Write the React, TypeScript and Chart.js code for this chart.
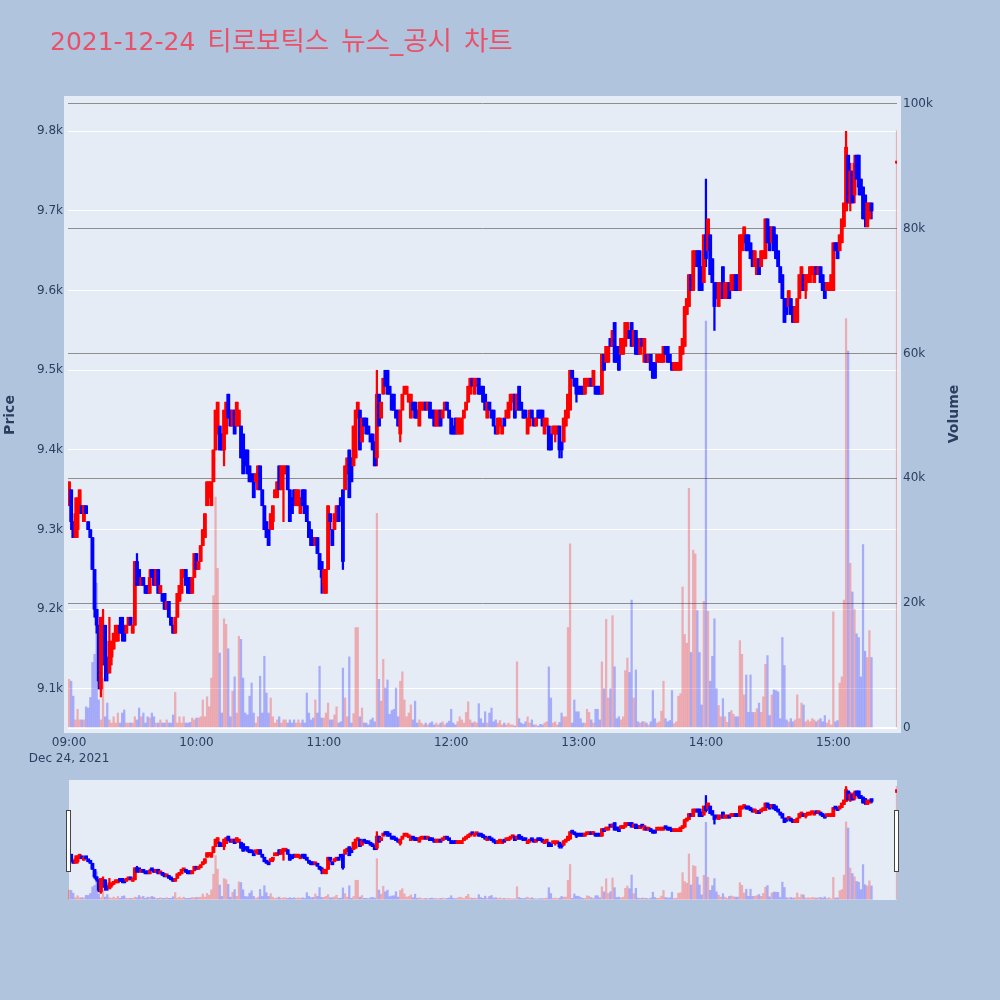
import React, { useEffect, useRef } from 'react';
import { Chart, registerables } from 'chart.js';

Chart.register(...registerables);

const TITLE = '2021-12-24 티로보틱스 뉴스_공시 차트';
const SESSION_START = '09:00';
const SESSION_END = '15:30';
const DATE_LABEL = 'Dec 24, 2021';
const X_TICKS = ['09:00', '10:00', '11:00', '12:00', '13:00', '14:00', '15:00'];
const PRICE_TICKS = [9100, 9200, 9300, 9400, 9500, 9600, 9700, 9800];
const VOLUME_TICKS = [0, 20000, 40000, 60000, 80000, 100000];
const PRICE_RANGE = [9046, 9843];
const VOLUME_RANGE = [-640, 101100];

// one entry per minute from 09:00
const OPEN = [
  9330,9350,9310,9290,9300,9320,9330,9310,9330,9310,
  9300,9290,9250,9200,9180,9100,9140,9180,9140,9120,
  9140,9150,9160,9160,9180,9190,9180,9170,9180,9190,
  9170,9180,9260,9250,9230,9240,9230,9230,9220,9250,
  9250,9230,9250,9220,9220,9220,9200,9210,9190,9180,
  9170,9190,9210,9220,9240,9250,9240,9240,9220,9240,
  9270,9250,9260,9280,9290,9330,9340,9330,9360,9400,
  9420,9430,9420,9400,9420,9470,9450,9430,9450,9430,
  9430,9430,9420,9400,9400,9380,9370,9370,9360,9350,
  9380,9350,9330,9310,9300,9300,9310,9340,9340,9380,
  9350,9370,9370,9380,9350,9340,9350,9330,9330,9320,
  9350,9350,9330,9310,9300,9290,9280,9290,9270,9260,
  9230,9220,9250,9320,9300,9300,9310,9330,9340,9350,
  9350,9370,9400,9390,9380,9390,9440,9450,9410,9440,
  9440,9430,9420,9420,9410,9390,9470,9440,9470,9500,
  9500,9480,9470,9470,9450,9450,9420,9450,9470,9470,
  9460,9440,9460,9460,9450,9430,9450,9450,9460,9450,
  9460,9450,9450,9430,9430,9450,9440,9450,9460,9450,
  9440,9430,9440,9420,9420,9420,9440,9450,9460,9470,
  9490,9470,9480,9490,9480,9480,9470,9440,9460,9450,
  9450,9430,9420,9430,9420,9440,9440,9440,9450,9460,
  9470,9450,9480,9460,9450,9450,9420,9430,9450,9440,
  9430,9450,9450,9450,9420,9430,9430,9420,9420,9420,
  9420,9430,9410,9410,9430,9440,9450,9500,9490,9490,
  9480,9480,9480,9470,9480,9480,9490,9480,9480,9480,
  9480,9470,9520,9510,9510,9540,9530,9560,9530,9530,
  9520,9520,9530,9540,9550,9560,9530,9550,9540,9520,
  9540,9510,9520,9510,9520,9510,9510,9510,9510,9510,
  9510,9530,9530,9520,9510,9500,9500,9500,9500,9520,
  9530,9570,9580,9620,9600,9630,9650,9650,9630,9610,
  9670,9650,9670,9640,9610,9610,9580,9590,9630,9590,
  9590,9610,9600,9600,9620,9620,9600,9650,9660,9670,
  9670,9660,9650,9630,9620,9640,9630,9640,9640,9690,
  9680,9660,9680,9670,9650,9630,9620,9590,9590,9580,
  9590,9580,9560,9560,9590,9600,9620,9600,9610,9610,
  9620,9610,9630,9620,9630,9620,9610,9600,9600,9600,
  9600,9660,9660,9650,9660,9680,9700,9770,9710,9750,
  9720,9770,9770,9740,9730,9720,9680,9690,9710,
];
const HIGH = [
  9360,9350,9310,9340,9340,9350,9330,9330,9330,9310,
  9300,9290,9250,9200,9180,9190,9200,9180,9140,9190,
  9160,9170,9180,9180,9190,9190,9180,9180,9190,9190,
  9180,9260,9270,9250,9240,9240,9230,9230,9250,9250,
  9250,9250,9250,9230,9220,9220,9210,9210,9190,9180,
  9190,9220,9230,9250,9250,9250,9240,9240,9240,9270,
  9270,9260,9280,9300,9320,9360,9360,9360,9400,9450,
  9460,9430,9420,9450,9460,9470,9450,9450,9450,9460,
  9450,9430,9420,9400,9400,9380,9370,9370,9370,9380,
  9380,9350,9330,9310,9300,9320,9330,9350,9360,9380,
  9380,9380,9380,9380,9350,9340,9350,9350,9350,9340,
  9350,9350,9330,9310,9300,9290,9290,9290,9270,9260,
  9250,9250,9330,9320,9300,9320,9330,9330,9340,9350,
  9380,9390,9400,9390,9430,9450,9460,9450,9440,9440,
  9440,9430,9420,9420,9410,9500,9470,9460,9490,9500,
  9500,9480,9470,9470,9450,9450,9450,9470,9480,9480,
  9470,9470,9460,9460,9450,9460,9460,9460,9460,9460,
  9460,9450,9450,9450,9450,9450,9450,9460,9460,9450,
  9440,9430,9440,9440,9440,9440,9450,9460,9480,9490,
  9490,9490,9490,9490,9480,9480,9470,9460,9460,9450,
  9450,9430,9440,9440,9430,9440,9450,9460,9470,9470,
  9470,9470,9480,9460,9450,9450,9440,9450,9450,9440,
  9440,9450,9450,9450,9440,9440,9430,9420,9430,9430,
  9430,9430,9410,9440,9450,9470,9500,9500,9490,9490,
  9480,9480,9480,9490,9490,9490,9490,9500,9480,9480,
  9480,9520,9520,9530,9530,9540,9550,9560,9530,9530,
  9540,9540,9560,9560,9550,9560,9550,9550,9540,9540,
  9540,9540,9520,9520,9520,9510,9510,9520,9520,9520,
  9530,9530,9530,9520,9510,9510,9510,9510,9530,9540,
  9580,9590,9620,9620,9650,9650,9650,9650,9630,9670,
  9740,9690,9670,9640,9610,9610,9610,9610,9630,9610,
  9610,9610,9620,9620,9620,9620,9670,9670,9680,9670,
  9670,9660,9650,9650,9640,9640,9650,9650,9690,9690,
  9680,9680,9680,9670,9650,9630,9620,9590,9590,9600,
  9590,9580,9580,9590,9620,9630,9620,9620,9620,9630,
  9630,9630,9630,9630,9630,9620,9610,9610,9610,9620,
  9660,9660,9660,9670,9690,9710,9800,9770,9760,9750,
  9770,9770,9770,9740,9730,9720,9710,9710,9710,
];
const LOW = [
  9330,9300,9290,9290,9290,9320,9320,9310,9320,9300,
  9290,9250,9190,9170,9100,9090,9130,9110,9110,9120,
  9130,9150,9160,9160,9170,9160,9160,9170,9180,9180,
  9170,9180,9230,9230,9230,9230,9220,9220,9220,9240,
  9230,9230,9220,9220,9210,9200,9200,9190,9180,9170,
  9170,9190,9210,9220,9240,9230,9220,9220,9220,9240,
  9250,9250,9260,9280,9290,9330,9340,9330,9360,9400,
  9420,9400,9400,9380,9420,9440,9430,9430,9420,9430,
  9430,9390,9370,9380,9370,9360,9360,9340,9360,9350,
  9350,9330,9300,9290,9280,9300,9300,9340,9340,9350,
  9350,9310,9370,9350,9310,9320,9330,9330,9330,9320,
  9330,9320,9310,9290,9280,9280,9280,9270,9250,9220,
  9220,9220,9250,9300,9280,9300,9310,9310,9330,9250,
  9350,9370,9340,9360,9380,9390,9440,9400,9410,9430,
  9420,9420,9410,9400,9380,9380,9430,9440,9470,9480,
  9470,9470,9450,9450,9440,9430,9410,9450,9470,9470,
  9460,9440,9450,9440,9440,9430,9450,9450,9450,9450,
  9440,9440,9430,9430,9430,9430,9440,9450,9450,9440,
  9420,9420,9420,9420,9420,9420,9440,9450,9460,9470,
  9480,9470,9480,9470,9470,9460,9450,9440,9450,9440,
  9430,9420,9420,9430,9420,9430,9440,9440,9450,9460,
  9440,9450,9450,9450,9440,9440,9420,9430,9440,9430,
  9430,9440,9440,9430,9420,9430,9400,9400,9420,9410,
  9420,9390,9390,9410,9430,9440,9450,9490,9480,9460,
  9470,9470,9470,9470,9480,9480,9480,9480,9470,9470,
  9470,9470,9500,9510,9510,9530,9530,9510,9510,9500,
  9520,9520,9530,9540,9540,9530,9530,9520,9520,9520,
  9530,9510,9510,9510,9500,9490,9490,9510,9510,9510,
  9510,9520,9510,9510,9500,9500,9500,9500,9500,9520,
  9530,9570,9580,9600,9600,9630,9630,9600,9600,9610,
  9630,9650,9620,9610,9550,9590,9580,9590,9590,9590,
  9590,9590,9600,9600,9600,9600,9600,9650,9660,9650,
  9650,9640,9630,9630,9620,9620,9630,9640,9640,9660,
  9650,9660,9650,9640,9630,9610,9590,9560,9570,9580,
  9570,9560,9560,9560,9590,9600,9600,9590,9610,9610,
  9620,9610,9620,9620,9610,9600,9590,9600,9600,9600,
  9600,9650,9640,9650,9660,9680,9700,9710,9700,9710,
  9710,9740,9720,9720,9690,9680,9680,9690,9690,
];
const CLOSE = [
  9360,9310,9290,9320,9340,9350,9320,9330,9320,9300,
  9290,9250,9200,9180,9110,9190,9180,9130,9120,9160,
  9160,9170,9180,9180,9170,9170,9160,9180,9190,9180,
  9180,9260,9230,9240,9240,9230,9220,9220,9240,9240,
  9230,9250,9220,9230,9210,9200,9210,9190,9180,9170,
  9190,9220,9230,9250,9250,9230,9220,9220,9240,9270,
  9250,9260,9280,9300,9320,9360,9360,9360,9400,9450,
  9460,9400,9400,9450,9460,9440,9430,9450,9420,9460,
  9450,9390,9370,9380,9370,9360,9360,9340,9370,9380,
  9350,9330,9300,9290,9280,9320,9330,9350,9360,9350,
  9380,9380,9380,9350,9310,9320,9330,9350,9350,9340,
  9330,9320,9310,9290,9280,9280,9290,9270,9250,9240,
  9250,9250,9330,9310,9280,9320,9330,9310,9330,9260,
  9380,9390,9340,9360,9430,9450,9460,9400,9440,9430,
  9420,9420,9410,9400,9380,9470,9430,9460,9490,9480,
  9470,9470,9450,9450,9440,9430,9450,9470,9480,9480,
  9470,9470,9450,9440,9440,9460,9460,9460,9450,9460,
  9440,9440,9430,9450,9450,9430,9450,9460,9450,9440,
  9420,9420,9420,9440,9440,9440,9450,9460,9480,9490,
  9480,9490,9490,9470,9470,9460,9450,9460,9450,9440,
  9430,9420,9440,9440,9430,9430,9450,9460,9470,9470,
  9440,9470,9450,9450,9440,9440,9440,9450,9440,9430,
  9440,9440,9440,9430,9440,9440,9400,9400,9430,9430,
  9430,9400,9400,9440,9450,9470,9500,9490,9480,9470,
  9470,9470,9470,9490,9490,9490,9480,9500,9470,9470,
  9470,9520,9500,9530,9530,9530,9550,9510,9510,9500,
  9540,9540,9560,9560,9540,9530,9550,9520,9520,9540,
  9530,9540,9510,9520,9500,9490,9490,9520,9520,9520,
  9530,9520,9510,9510,9500,9510,9510,9510,9530,9540,
  9580,9590,9620,9600,9650,9650,9630,9600,9600,9670,
  9640,9690,9620,9610,9580,9590,9610,9610,9590,9610,
  9610,9590,9620,9620,9600,9600,9670,9670,9680,9650,
  9650,9640,9630,9650,9640,9620,9650,9650,9690,9660,
  9650,9680,9650,9640,9630,9610,9590,9560,9570,9600,
  9570,9560,9580,9590,9620,9630,9600,9620,9620,9630,
  9630,9630,9620,9630,9610,9600,9590,9610,9610,9620,
  9660,9650,9640,9670,9690,9710,9780,9710,9750,9710,
  9760,9740,9730,9720,9690,9690,9710,9710,9700,
];
const VOLUME = [
  7800,7500,5100,1300,3000,1300,1300,1300,3400,3200,
  4900,10500,11800,23200,4500,1300,8000,1800,4000,1300,
  800,1800,800,2400,800,2400,2900,800,800,800,
  800,1800,1300,3200,1800,2400,800,1800,1600,2400,
  1800,800,800,1300,800,800,1300,800,800,2100,
  5700,800,1800,800,1800,800,800,900,1600,1300,
  1600,1600,1800,4500,1800,5000,3400,8000,21200,37000,
  25600,12000,2400,17500,16600,12700,1800,5900,8200,2400,
  14700,14200,8000,2400,2100,5100,7200,2400,800,1800,
  8300,2400,11500,5600,2400,4800,1800,800,1300,1800,
  800,1300,1300,800,1300,800,1300,800,1300,800,
  1300,800,5600,2400,1300,1600,4500,2400,9900,1600,
  1600,2400,4000,1300,1300,2100,3400,800,1000,9600,
  4800,1800,11400,800,2300,16100,16100,1800,3200,800,
  800,500,1300,1600,1000,34400,7800,4300,11000,6400,
  7700,2200,2800,3000,6400,1800,7500,9000,4500,1800,
  2400,3700,1300,4300,800,1300,800,500,800,500,
  800,1000,500,800,500,800,1000,500,800,1100,
  3000,800,500,1000,1800,1300,800,2500,4200,1300,
  800,1000,800,3900,1500,800,2600,800,2400,3200,
  1000,1300,800,1200,500,800,500,800,500,500,
  300,10600,1500,800,600,1000,1800,800,1300,500,
  500,300,600,500,800,1000,9800,4800,800,1000,
  500,900,2400,1800,1800,16100,29500,800,4500,2600,
  2600,1500,800,800,3000,2500,1300,800,3000,3000,
  1300,10600,6300,17400,4800,6300,18000,9800,1500,1800,
  1300,1800,9200,11200,8900,20500,4800,9300,1000,800,
  1000,1000,800,500,1000,6000,1500,800,1000,2700,
  7500,1500,1000,1200,6000,700,1000,5100,5500,22600,
  15000,13600,38400,12100,28500,27900,18800,12100,3700,20300,
  65200,18700,7500,11500,17500,6300,3600,1800,4700,1800,
  900,2500,2800,2200,1800,1800,14000,11800,5300,8500,
  2500,8500,2500,2500,3100,4000,2500,5000,10200,11600,
  2000,5300,6100,6000,5800,1500,14500,10000,1300,1000,
  1500,1000,1300,5300,1500,4000,3700,1000,1300,1000,
  1500,1300,1000,1300,1500,1000,2000,800,1300,500,
  18600,1000,1200,7200,8200,20500,65600,60400,26400,21800,
  19000,15100,14500,8200,29400,12300,11300,15600,11300,
];
// closing single-price auction
const AUCTION_TIME = '15:30';
const AUCTION_OPEN = 9760;
const AUCTION_HIGH = 9760;
const AUCTION_LOW = 9760;
const AUCTION_CLOSE = 9760;
const AUCTION_VOLUME = 95700;

const INC = '#ff0000';
const DEC = '#0000ff';
const INC_VOL = 'rgba(255,0,0,0.27)';
const DEC_VOL = 'rgba(0,0,255,0.27)';
const PLOT_BG = '#E5ECF6';
const PAGE_BG = '#B0C4DE';
const TEXT = '#2a3f5f';
const FONT = '"DejaVu Sans", Verdana, sans-serif';

const toMinutes = (t: string) => {
  const [h, m] = t.split(':').map(Number);
  return h * 60 + m;
};

type Candle = { x: number; o: number; h: number; l: number; c: number; v: number };

function buildCandles(): Candle[] {
  const start = toMinutes(SESSION_START);
  const list: Candle[] = OPEN.map((o, i) => ({ x: i, o, h: HIGH[i], l: LOW[i], c: CLOSE[i], v: VOLUME[i] }));
  list.push({
    x: toMinutes(AUCTION_TIME) - start,
    o: AUCTION_OPEN, h: AUCTION_HIGH, l: AUCTION_LOW, c: AUCTION_CLOSE, v: AUCTION_VOLUME,
  });
  return list;
}

function makeDatasets(candles: Candle[], bodyW: number, wickW: number, volW: number, minLen: number): any[] {
  const col = candles.map((c) => (c.c >= c.o ? INC : DEC));
  const vcol = candles.map((c) => (c.c >= c.o ? INC_VOL : DEC_VOL));
  return [
    {
      type: 'bar', label: 'body', data: candles.map((c) => ({ x: c.x, y: [c.o, c.c] })),
      backgroundColor: col, barThickness: bodyW, minBarLength: minLen, grouped: false, yAxisID: 'y', order: 1,
    },
    {
      type: 'bar', label: 'wick', data: candles.map((c) => ({ x: c.x, y: [c.l, c.h] })),
      backgroundColor: col, barThickness: wickW, grouped: false, yAxisID: 'y', order: 2,
    },
    {
      type: 'bar', label: 'volume', data: candles.map((c) => ({ x: c.x, y: c.v })),
      backgroundColor: vcol, barThickness: volW, grouped: false, yAxisID: 'y2', order: 3,
    },
  ];
}

export default function App() {
  const mainRef = useRef<HTMLCanvasElement | null>(null);
  const sliderRef = useRef<HTMLCanvasElement | null>(null);

  useEffect(() => {
    const candles = buildCandles();
    const start = toMinutes(SESSION_START);
    const xMax = toMinutes(SESSION_END) - start;

    const mainPlugin = {
      id: 'mainDecor',
      beforeDraw(chart: any) {
        const { ctx, chartArea } = chart;
        ctx.save();
        ctx.fillStyle = PLOT_BG;
        ctx.fillRect(chartArea.left - 4, chartArea.top - 1, chartArea.right - chartArea.left + 8, chartArea.bottom - chartArea.top + 2);
        ctx.restore();
      },
      afterDraw(chart: any) {
        const { ctx } = chart;
        ctx.save();
        ctx.fillStyle = '#ea5169';
        ctx.textBaseline = 'alphabetic';
        ctx.textAlign = 'left';
        // date in Latin font, Korean words slightly larger, wider word gaps
        let tx = 50;
        TITLE.split(' ').forEach((word, i) => {
          ctx.font = i === 0 ? `25px ${FONT}` : `26.5px ${FONT}, "Noto Sans CJK KR"`;
          ctx.fillText(word, tx, 50);
          tx += ctx.measureText(word).width + 12;
        });

        ctx.fillStyle = TEXT;
        ctx.font = `bold 14px ${FONT}`;
        ctx.textAlign = 'center';
        ctx.textBaseline = 'middle';
        ctx.save();
        ctx.translate(10, 415);
        ctx.rotate(-Math.PI / 2);
        ctx.fillText('Price', 0, 0);
        ctx.restore();
        ctx.save();
        ctx.translate(954, 414);
        ctx.rotate(-Math.PI / 2);
        ctx.fillText('Volume', 0, 0);
        ctx.restore();
        ctx.restore();
      },
    };

    const main = new Chart(mainRef.current as HTMLCanvasElement, {
      type: 'bar',
      data: { datasets: makeDatasets(candles, 3.2, 1.6, 1.6, 2) },
      options: {
        animation: false,
        responsive: false,
        events: [],
        layout: { padding: { top: 97, left: 0, right: 0, bottom: 0 } },
        plugins: { legend: { display: false }, tooltip: { enabled: false } },
        scales: {
          x: {
            type: 'linear', min: -0.5, max: xMax, offset: false,
            grid: { display: false, drawTicks: false, offset: false },
            border: { display: false },
            afterFit: (s: any) => { s.height = 48; },
            afterBuildTicks: (s: any) => { s.ticks = X_TICKS.map((t) => ({ value: toMinutes(t) - start })); },
            ticks: {
              autoSkip: false, maxRotation: 0, padding: 2, color: TEXT,
              font: { family: FONT, size: 12, lineHeight: 1.4 },
              callback: (_v: any, i: number) => (i === 0 ? [X_TICKS[0], DATE_LABEL] : X_TICKS[i]),
            },
          },
          y: {
            type: 'linear', position: 'left', min: PRICE_RANGE[0], max: PRICE_RANGE[1],
            grid: { color: '#ffffff', lineWidth: 1, drawTicks: false, z: -2 },
            border: { display: false },
            afterFit: (s: any) => { s.width = 68; },
            afterBuildTicks: (s: any) => { s.ticks = PRICE_TICKS.map((v) => ({ value: v })); },
            ticks: {
              padding: 5, color: TEXT, font: { family: FONT, size: 12 },
              callback: (v: any) => (Number(v) / 1000).toFixed(1) + 'k',
            },
          },
          y2: {
            type: 'linear', position: 'right', min: VOLUME_RANGE[0], max: VOLUME_RANGE[1],
            grid: {
              color: (c: any) => (c.tick && c.tick.value === 0 ? '#ffffff' : '#8e8e8e'),
              lineWidth: (c: any) => (c.tick && c.tick.value === 0 ? 2 : 1),
              drawTicks: false, z: -1,
            },
            border: { display: false },
            afterFit: (s: any) => { s.width = 103; },
            afterBuildTicks: (s: any) => { s.ticks = VOLUME_TICKS.map((v) => ({ value: v })); },
            ticks: {
              padding: 6, color: TEXT, font: { family: FONT, size: 12 },
              callback: (v: any) => (Number(v) === 0 ? '0' : Number(v) / 1000 + 'k'),
            },
          },
        },
      } as any,
      plugins: [mainPlugin],
    });

    const sliderPlugin = {
      id: 'sliderDecor',
      beforeDraw(chart: any) {
        const { ctx, chartArea } = chart;
        ctx.save();
        ctx.fillStyle = PLOT_BG;
        ctx.fillRect(chartArea.left + 1, chartArea.top, chartArea.right - chartArea.left - 1, chartArea.bottom - chartArea.top);
        ctx.restore();
      },
      afterDraw(chart: any) {
        const { ctx, chartArea } = chart;
        ctx.save();
        ctx.fillStyle = '#ffffff';
        ctx.strokeStyle = '#444444';
        ctx.lineWidth = 1;
        const hy = chartArea.top + 30;
        const hh = 61;
        ctx.fillRect(chartArea.left - 1, hy, 3.5, hh);
        ctx.strokeRect(chartArea.left - 1.5, hy + 0.5, 4, hh);
        ctx.fillRect(chartArea.right - 2, hy, 3.5, hh);
        ctx.strokeRect(chartArea.right - 2.5, hy + 0.5, 4, hh);
        ctx.restore();
      },
    };

    const slider = new Chart(sliderRef.current as HTMLCanvasElement, {
      type: 'bar',
      data: { datasets: makeDatasets(candles, 3.2, 1.6, 1.6, 3) },
      options: {
        animation: false,
        responsive: false,
        events: [],
        layout: { padding: { top: 10, left: 68, right: 103, bottom: 10 } },
        plugins: { legend: { display: false }, tooltip: { enabled: false } },
        scales: {
          x: { type: 'linear', display: false, min: -0.5, max: xMax, offset: false, grid: { offset: false } },
          y: { type: 'linear', display: false, min: PRICE_RANGE[0], max: PRICE_RANGE[1] },
          y2: { type: 'linear', display: false, min: VOLUME_RANGE[0], max: VOLUME_RANGE[1] },
        },
      } as any,
      plugins: [sliderPlugin],
    });

    return () => {
      main.destroy();
      slider.destroy();
    };
  }, []);

  return (
    <div style={{ position: 'fixed', left: 0, top: 0, width: 1000, height: 1000, background: PAGE_BG, overflow: 'hidden' }}>
      <canvas ref={mainRef} width={1000} height={780} style={{ position: 'absolute', left: 0, top: 0, width: 1000, height: 780 }} />
      <canvas ref={sliderRef} width={1000} height={140} style={{ position: 'absolute', left: 0, top: 770, width: 1000, height: 140 }} />
    </div>
  );
}
